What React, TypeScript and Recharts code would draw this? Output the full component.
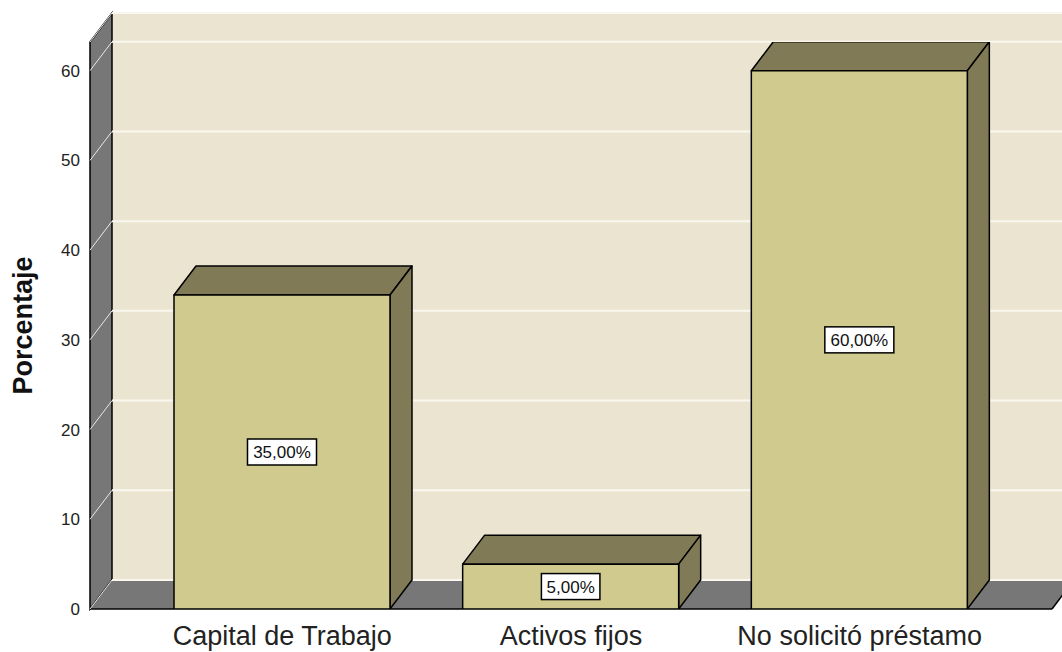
import { BarChart, Bar, XAxis, YAxis, CartesianGrid, LabelList, Label } from 'recharts';

const categories = ['Capital de Trabajo', 'Activos fijos', 'No solicitó préstamo'];
const percentages = [35, 5, 60];
const yTicks = [0, 10, 20, 30, 40, 50, 60];
const yMax = 63.2;

const data = categories.map((name, i) => ({ name, value: percentages[i] }));

// 3d depth of the SPSS-style box
const DX = 22;
const DY = 29;
const FRONT = '#d0ca8e';
const SHADE = '#807b56';
const WALL = '#ebe4d0';
const SIDE = '#777777';

function Walls(props: any) {
  const { x, y, width, height, index } = props;
  if (index !== 0) return <g />;
  const bottom = y + height;
  const right = x + width;
  return (
    <g>
      <rect x={x + DX} y={y - DY} width={1062 - x - DX} height={height} fill={WALL} />
      <line x1={x + DX} y1={y - DY} x2={1062} y2={y - DY} stroke="#000" strokeWidth={1.5} />
      <polygon
        points={`${x},${y} ${x + DX},${y - DY} ${x + DX},${bottom - DY} ${x},${bottom}`}
        fill={SIDE}
        stroke="#000"
        strokeWidth={1.5}
      />
      <polygon
        points={`${x},${bottom} ${x + DX},${bottom - DY} ${right + DX},${bottom - DY} ${right},${bottom}`}
        fill={SIDE}
      />
      <line x1={x} y1={bottom} x2={right} y2={bottom} stroke="#000" strokeWidth={1.5} />
      <line x1={right} y1={bottom} x2={right + DX} y2={bottom - DY} stroke="#000" strokeWidth={1.5} />
    </g>
  );
}

function GridLine(props: any) {
  const { x1, y1 } = props;
  return (
    <g>
      <line x1={x1} y1={y1} x2={x1 + DX} y2={y1 - DY} stroke="#e8e8e8" strokeWidth={1} />
      <line x1={x1 + DX} y1={y1 - DY} x2={1062} y2={y1 - DY} stroke="#f9f7f0" strokeWidth={2} />
    </g>
  );
}

function Box3D(props: any) {
  const { x, y, width, height } = props;
  const r = x + width;
  const b = y + height;
  return (
    <g stroke="#000" strokeWidth={1.5} strokeLinejoin="round">
      <polygon points={`${x},${y} ${x + DX},${y - DY} ${r + DX},${y - DY} ${r},${y}`} fill={SHADE} />
      <polygon points={`${r},${y} ${r + DX},${y - DY} ${r + DX},${b - DY} ${r},${b}`} fill={SHADE} />
      <rect x={x} y={y} width={width} height={height} fill={FRONT} />
    </g>
  );
}

function ValueBox(props: any) {
  const { x, y, width, height, value } = props;
  const cx = x + width / 2;
  const cy = y + height / 2;
  const text = `${Number(value).toFixed(2).replace('.', ',')}%`;
  const w = text.length * 10.5 + 6;
  return (
    <g>
      <rect x={cx - w / 2} y={cy - 13} width={w} height={26} fill="#fff" stroke="#000" strokeWidth={1.5} />
      <text x={cx} y={cy + 6} textAnchor="middle" fontSize={17} fill="#111" fontFamily="Liberation Sans, Arial, sans-serif">
        {text}
      </text>
    </g>
  );
}

export default function App() {
  return (
    <div style={{ position: 'absolute', left: 0, top: 0, width: 1062, height: 652, background: '#fff' }}>
      <BarChart
        width={1062}
        height={652}
        data={data}
        margin={{ top: 42, right: 10, bottom: 13, left: 0 }}
        style={{ fontFamily: 'Liberation Sans, Arial, sans-serif' }}
      >
        <CartesianGrid horizontal={Walls} vertical={false} stroke="none" />
        <CartesianGrid horizontal={GridLine} vertical={false} />
        <XAxis
          dataKey="name"
          height={30}
          axisLine={false}
          tickLine={false}
          padding={{ left: 48, right: 48 }}
          tickMargin={11}
          tick={{ fontSize: 27, fill: '#222' }}
          interval={0}
        />
        <YAxis
          width={90}
          domain={[0, yMax]}
          ticks={yTicks}
          axisLine={false}
          tickLine={false}
          tickMargin={4}
          tick={{ fontSize: 17, fill: '#222' }}
          allowDataOverflow
        >
          <Label
            content={(p: any) => {
              const vb = p.viewBox;
              const cy = vb.y + vb.height / 2;
              return (
                <text
                  x={32}
                  y={cy}
                  transform={`rotate(-90, 32, ${cy})`}
                  textAnchor="middle"
                  fontSize={27}
                  fontWeight="bold"
                  fill="#111"
                >
                  Porcentaje
                </text>
              );
            }}
          />
        </YAxis>
        <Bar dataKey="value" barSize={216} shape={Box3D} isAnimationActive={false}>
          <LabelList dataKey="value" content={ValueBox} />
        </Bar>
      </BarChart>
    </div>
  );
}
